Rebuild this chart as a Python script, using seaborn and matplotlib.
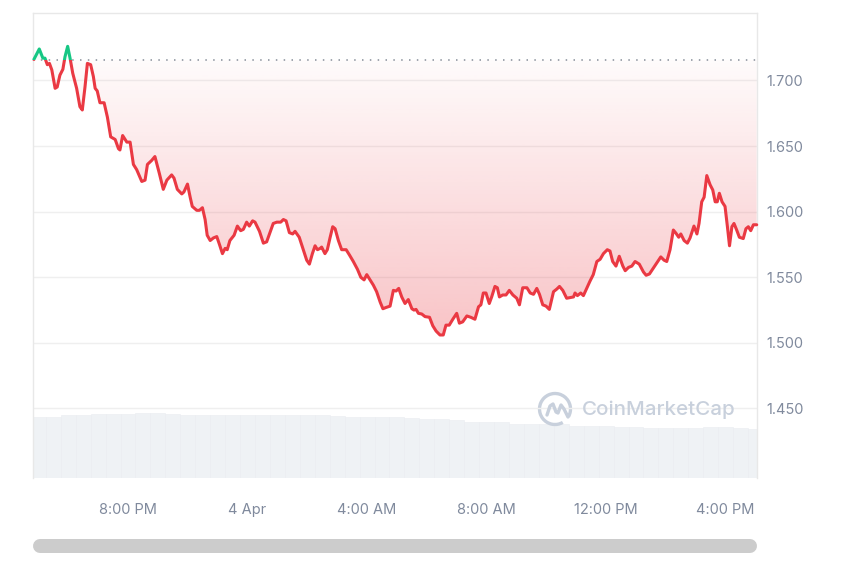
import numpy as np
import matplotlib
matplotlib.use("Agg")
import matplotlib.pyplot as plt
import seaborn as sns
from matplotlib.patches import Rectangle, Arc, PathPatch
from matplotlib.lines import Line2D
from matplotlib.path import Path
from matplotlib.transforms import IdentityTransform

# ---------------- data (hours since 3 Apr 00:00) ----------------
hours = [16.85, 17.03, 17.15, 17.22, 17.30, 17.37, 17.45, 17.56, 17.63, 17.72,
         17.82, 17.89, 17.98, 18.06, 18.15, 18.28, 18.39, 18.47, 18.56, 18.64,
         18.75, 18.84, 18.90, 18.97, 19.06, 19.20, 19.31, 19.42, 19.57, 19.68,
         19.73, 19.82, 19.96, 20.07, 20.18, 20.29, 20.46, 20.57, 20.65, 20.79,
         20.90, 21.05, 21.18, 21.30, 21.46, 21.54, 21.65, 21.80, 21.87, 21.99,
         22.08, 22.15, 22.30, 22.39, 22.49, 22.58, 22.65, 22.75, 22.86, 22.97,
         23.06, 23.16, 23.25, 23.32, 23.41, 23.55, 23.66, 23.77, 23.86, 23.97,
         24.06, 24.17, 24.25, 24.40, 24.53, 24.64, 24.75, 24.86, 24.98, 25.11,
         25.20, 25.29, 25.40, 25.51, 25.59, 25.73, 25.85, 25.98, 26.07, 26.17,
         26.26, 26.34, 26.43, 26.48, 26.59, 26.67, 26.76, 26.85, 26.93, 27.04,
         27.15, 27.30, 27.41, 27.54, 27.68, 27.79, 27.90, 27.99, 28.10, 28.21,
         28.32, 28.44, 28.53, 28.64, 28.77, 28.88, 28.97, 29.06, 29.16, 29.27,
         29.38, 29.50, 29.57, 29.64, 29.72, 29.83, 29.94, 30.09, 30.20, 30.31,
         30.44, 30.55, 30.64, 30.75, 30.87, 31.00, 31.09, 31.20, 31.34, 31.47,
         31.61, 31.73, 31.81, 31.89, 31.98, 32.09, 32.17, 32.28, 32.36, 32.43,
         32.54, 32.65, 32.76, 32.88, 33.01, 33.10, 33.21, 33.35, 33.46, 33.57,
         33.68, 33.77, 33.88, 33.99, 34.10, 34.24, 34.35, 34.44, 34.55, 34.68,
         34.79, 34.91, 34.96, 35.04, 35.15, 35.24, 35.35, 35.46, 35.57, 35.69,
         35.80, 35.91, 36.04, 36.13, 36.22, 36.33, 36.44, 36.56, 36.64, 36.75,
         36.86, 36.97, 37.11, 37.25, 37.34, 37.45, 37.58, 37.72, 37.83, 37.94,
         38.03, 38.14, 38.25, 38.34, 38.43, 38.50, 38.61, 38.72, 38.81, 38.94,
         39.04, 39.11, 39.20, 39.28, 39.37, 39.48, 39.57, 39.65, 39.72, 39.79,
         39.88, 39.98, 40.06, 40.13, 40.21, 40.28, 40.37, 40.46, 40.59, 40.68,
         40.76, 40.84, 40.93, 41.04]

price = [1.716, 1.724, 1.717, 1.717, 1.712, 1.713, 1.708, 1.694, 1.695, 1.704,
         1.7085, 1.718, 1.726, 1.717, 1.7055, 1.694, 1.680, 1.6775, 1.695, 1.713,
         1.712, 1.703, 1.694, 1.692, 1.683, 1.683, 1.672, 1.657, 1.655, 1.648,
         1.647, 1.658, 1.653, 1.653, 1.636, 1.632, 1.623, 1.624, 1.636, 1.639,
         1.642, 1.629, 1.617, 1.624, 1.628, 1.6255, 1.617, 1.6135, 1.615, 1.621,
         1.611, 1.604, 1.601, 1.601, 1.603, 1.594, 1.582, 1.578, 1.580, 1.581,
         1.575, 1.568, 1.572, 1.571, 1.578, 1.582, 1.589, 1.5855, 1.5865, 1.592,
         1.589, 1.593, 1.592, 1.585, 1.576, 1.577, 1.584, 1.591, 1.592, 1.592,
         1.594, 1.593, 1.584, 1.583, 1.585, 1.5805, 1.572, 1.563, 1.560, 1.568,
         1.574, 1.571, 1.572, 1.573, 1.568, 1.571, 1.580, 1.5885, 1.587, 1.578,
         1.571, 1.571, 1.567, 1.562, 1.556, 1.550, 1.548, 1.552, 1.548, 1.544,
         1.539, 1.531, 1.526, 1.527, 1.528, 1.540, 1.5395, 1.5415, 1.535, 1.530,
         1.533, 1.526, 1.525, 1.5255, 1.5225, 1.522, 1.520, 1.5195, 1.513, 1.509,
         1.506, 1.506, 1.5135, 1.5135, 1.518, 1.5225, 1.515, 1.516, 1.5205, 1.5195,
         1.518, 1.5275, 1.529, 1.538, 1.538, 1.530, 1.535, 1.543, 1.542, 1.535,
         1.5365, 1.5365, 1.540, 1.5365, 1.534, 1.529, 1.542, 1.542, 1.538, 1.537,
         1.5415, 1.537, 1.529, 1.528, 1.5255, 1.539, 1.541, 1.543, 1.540, 1.534,
         1.5345, 1.535, 1.538, 1.536, 1.538, 1.536, 1.5415, 1.547, 1.552, 1.562,
         1.5637, 1.568, 1.571, 1.570, 1.562, 1.5585, 1.566, 1.5585, 1.555, 1.5575,
         1.5585, 1.562, 1.560, 1.554, 1.5515, 1.5525, 1.557, 1.562, 1.5655, 1.563,
         1.562, 1.571, 1.586, 1.5835, 1.5805, 1.583, 1.578, 1.576, 1.580, 1.589,
         1.583, 1.591, 1.6075, 1.611, 1.6275, 1.6205, 1.6165, 1.6075, 1.6075, 1.614,
         1.6075, 1.604, 1.5885, 1.574, 1.5885, 1.591, 1.586, 1.5805, 1.5795, 1.587,
         1.5885, 1.5855, 1.590, 1.590]

open_price = 1.7156

vol_hours = [17.0, 17.5, 18.0, 18.5, 19.0, 19.5, 20.0, 20.5, 21.0, 21.5,
             22.0, 22.5, 23.0, 23.5, 24.0, 24.5, 25.0, 25.5, 26.0, 26.5,
             27.0, 27.5, 28.0, 28.5, 29.0, 29.5, 30.0, 30.5, 31.0, 31.5,
             32.0, 32.5, 33.0, 33.5, 34.0, 34.5, 35.0, 35.5, 36.0, 36.5,
             37.0, 37.5, 38.0, 38.5, 39.0, 39.5, 40.0, 40.5, 41.0]
volume = [61, 61.5, 63.5, 63.5, 64, 64, 64.5, 65.5, 65, 64,
          63.5, 63, 63, 63, 63, 63, 63, 63, 63, 63,
          62.5, 61.5, 61, 61, 61, 60, 59, 59, 58.5, 56.5,
          56.5, 56, 54, 54, 54, 54, 52, 52, 52, 51.5,
          51.5, 50, 50, 50, 50, 51, 51, 50, 49.5]

y_ticks = [1.45, 1.50, 1.55, 1.60, 1.65, 1.70]
x_ticks = [20, 24, 28, 32, 36, 40]
x_labels = ["8:00 PM", "4 Apr", "4:00 AM", "8:00 AM", "12:00 PM", "4:00 PM"]

RED = "#ea3943"
GREEN = "#16c784"
LABEL = "#808a9d"

# ---------------- figure ----------------
sns.set_style("white")
plt.rcParams["font.family"] = ["Inter", "DejaVu Sans"]

W, H = 850, 567
fig = plt.figure(figsize=(W / 100, H / 100), dpi=100, facecolor="white")
L, R, T, B = 33, 757, 13, 478
pos = [L / W, 1 - B / H, (R - L) / W, (B - T) / H]

xlim = (16.82, 41.05)
ylim = (1.3970, 1.7514)

# volume axis (behind)
vax = fig.add_axes(pos, zorder=0)
vax.bar(vol_hours, volume, width=0.5, color="#eff2f5", edgecolor="#eaedf1", linewidth=0.4,
        align="center")
vax.set_xlim(*xlim)
vax.set_ylim(0, 465)
vax.axis("off")

# price axis
ax = fig.add_axes(pos, zorder=1)
ax.patch.set_alpha(0)
ax.set_xlim(*xlim)
ax.set_ylim(*ylim)

ax.set_axisbelow(True)
ax.yaxis.grid(True, color="#efefef", lw=1)
ax.xaxis.grid(False)

p = np.array(price)
hx = np.array(hours)


def clip_patch(coll):
    paths = coll.get_paths()
    path = Path.make_compound_path(*paths)
    coll.remove()
    patch = PathPatch(path, transform=ax.transData, facecolor="none", edgecolor="none")
    return patch


n = 256
t = np.linspace(0, 1, n).reshape(-1, 1)  # 0 bottom -> 1 top

# gradient fill below open price (red)
poly_r = ax.fill_between(hx, p, open_price, where=p <= open_price, interpolate=True)
cp_r = clip_patch(poly_r)
rgba = np.zeros((n, 1, 4))
rgba[..., 0], rgba[..., 1], rgba[..., 2] = 234 / 255, 57 / 255, 67 / 255
rgba[..., 3] = 0.30 - 0.28 * t
im = ax.imshow(rgba, extent=[xlim[0], xlim[1], p.min(), open_price], origin="lower",
               aspect="auto", zorder=1.5, interpolation="bilinear")
im.set_clip_path(cp_r)

# green fill above
poly_g = ax.fill_between(hx, p, open_price, where=p >= open_price, interpolate=True)
cp_g = clip_patch(poly_g)
rgba_g = np.zeros((n, 1, 4))
rgba_g[..., 0], rgba_g[..., 1], rgba_g[..., 2] = 22 / 255, 199 / 255, 132 / 255
rgba_g[..., 3] = 0.03 + 0.12 * t
img = ax.imshow(rgba_g, extent=[xlim[0], xlim[1], open_price, p.max()], origin="lower",
                aspect="auto", zorder=1.5, interpolation="bilinear")
img.set_clip_path(cp_g)

# dotted open-price reference
ax.axhline(open_price, color="#8f96a0", lw=1.2, ls=(0, (0.9, 3.8)), zorder=1.8)

# price line, red below / green above the open price
sns.lineplot(x=hours, y=price, color=RED, lw=2.2, sort=False, ax=ax, zorder=3)
red_line = ax.lines[-1]
red_line.set_solid_capstyle("round")
red_line.set_solid_joinstyle("round")
red_line.set_clip_path(Rectangle((0, 0), 100, open_price, transform=ax.transData))

sns.lineplot(x=hours, y=price, color=GREEN, lw=2.2, sort=False, ax=ax, zorder=3)
green_line = ax.lines[-1]
green_line.set_solid_capstyle("round")
green_line.set_solid_joinstyle("round")
green_line.set_clip_path(Rectangle((0, open_price), 100, 10, transform=ax.transData))

ax.set_ylim(*ylim)
ax.set_xlim(*xlim)

# ticks
ax.yaxis.tick_right()
ax.set_yticks(y_ticks)
ax.set_yticklabels([f"{v:.3f}" for v in y_ticks])
ax.set_xticks(x_ticks)
ax.set_xticklabels(x_labels)
ax.tick_params(axis="y", length=0, pad=7, labelsize=10.5, labelcolor=LABEL)
ax.tick_params(axis="x", length=0, pad=18, labelsize=10.5, labelcolor=LABEL)
ax.set_xlabel("")
ax.set_ylabel("")

for s in ["top", "left", "right"]:
    ax.spines[s].set_visible(True)
    ax.spines[s].set_color("#e8e8e8")
    ax.spines[s].set_linewidth(1)
ax.spines["bottom"].set_visible(False)

# watermark
ax.text((582 - L) / (R - L), (B - 410) / (B - T), "CoinMarketCap", transform=ax.transAxes,
        fontsize=14.8, color="#c8d0dc", ha="left", va="center", fontweight="medium", zorder=2)
idt = IdentityTransform()
cx, cy = 555, H - 409
fig.add_artist(Arc((cx, cy), 31, 31, theta1=-30, theta2=300, transform=idt,
                   color="#c8d0dc", lw=2.4))
wave = np.array([[-8, -6], [-5, 3], [-2, 5], [1, -3], [3, -4], [6, 4], [9, 0], [13, -8]])
fig.add_artist(Line2D(cx + wave[:, 0], cy + wave[:, 1], transform=idt,
                      color="#c8d0dc", lw=2.4, solid_capstyle="round", solid_joinstyle="round"))

# scrollbar
sy = 1 - 546 / H
fig.add_artist(Line2D([(L + 7) / W, (R - 7) / W], [sy, sy], transform=fig.transFigure,
                      color="#cccccc", lw=14 * 72 / 100, solid_capstyle="round"))

fig.savefig("out.png", dpi=100, facecolor="white")
